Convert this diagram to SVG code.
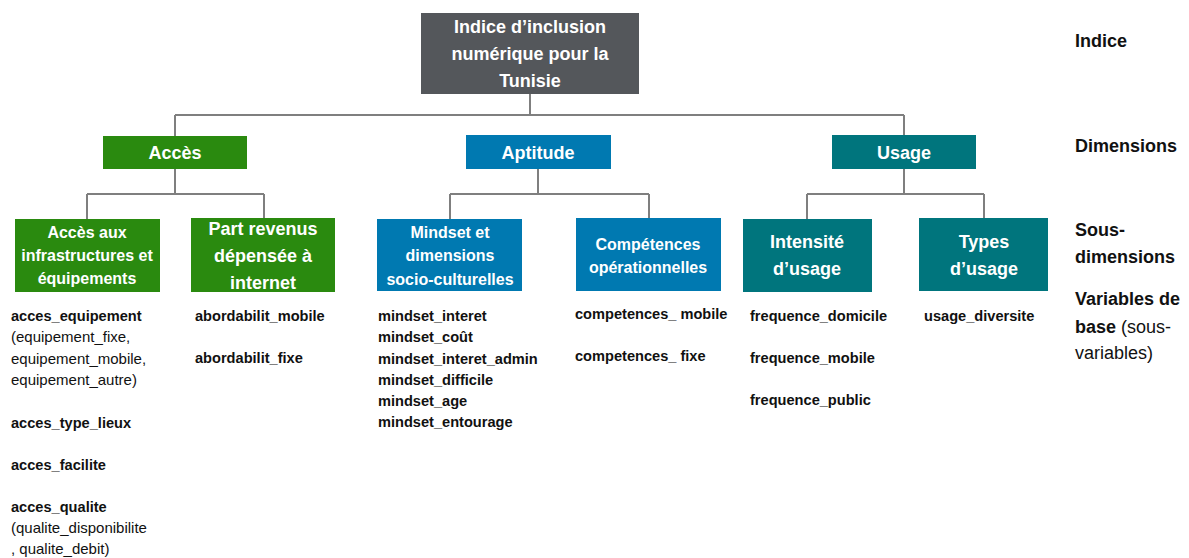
<svg xmlns="http://www.w3.org/2000/svg" width="1189" height="558" viewBox="0 0 1189 558">
  <style>
    text { font-family: "Liberation Sans", Arial, sans-serif; }
    .box-text { fill: #ffffff; font-weight: bold; text-anchor: middle; }
    .var { fill: #111111; font-size: 14.6px; font-weight: bold; }
    .sub { fill: #111111; font-size: 15px; font-weight: normal; }
    .level { fill: #111111; font-size: 18px; font-weight: bold; }
    .level-plain { font-weight: normal; }
    .wire { stroke: #7f7f7f; stroke-width: 2; fill: none; }
    .index { fill: #54575b; }
    .acces { fill: #2a8a0f; }
    .aptitude { fill: #0079b1; }
    .usage { fill: #00757d; }
  </style>

  <rect width="1189" height="558" fill="#ffffff"/>

  <!-- tree connectors -->
  <g id="connectors">
    <path class="wire" d="M530,94 V115 M175,115 H904 M175,115 V136 M904,115 V135"/>
    <path class="wire" d="M175,169 V194 M87,194 H264 M87,194 V219 M264,194 V218"/>
    <path class="wire" d="M538,169 V194 M450,194 H649 M450,194 V219 M649,194 V218"/>
    <path class="wire" d="M904,169 V194 M807,194 H984 M807,194 V219 M984,194 V218"/>
  </g>

  <!-- index -->
  <g id="node-indice">
    <rect class="index" x="421" y="13" width="218" height="81"/>
    <text class="box-text" font-size="18" x="530" y="33">Indice d’inclusion</text>
    <text class="box-text" font-size="18" x="530" y="60">numérique pour la</text>
    <text class="box-text" font-size="18" x="530" y="87">Tunisie</text>
  </g>

  <!-- dimensions -->
  <g id="node-acces">
    <rect class="acces" x="103" y="136" width="144" height="33"/>
    <text class="box-text" font-size="18" x="175" y="159">Accès</text>
  </g>
  <g id="node-aptitude">
    <rect class="aptitude" x="466" y="135" width="145" height="34"/>
    <text class="box-text" font-size="18" x="538" y="159">Aptitude</text>
  </g>
  <g id="node-usage">
    <rect class="usage" x="832" y="135" width="144" height="34"/>
    <text class="box-text" font-size="18" x="904" y="159">Usage</text>
  </g>

  <!-- sub-dimensions -->
  <g id="node-acces-infra">
    <rect class="acces" x="15" y="219" width="145" height="73"/>
    <text class="box-text" font-size="16" x="87" y="238">Accès aux</text>
    <text class="box-text" font-size="16" x="87" y="261">infrastructures et</text>
    <text class="box-text" font-size="16" x="87" y="284">équipements</text>
  </g>
  <g id="node-part-revenus">
    <rect class="acces" x="191" y="218" width="144" height="74"/>
    <text class="box-text" font-size="18" x="263" y="235">Part revenus</text>
    <text class="box-text" font-size="18" x="263" y="262">dépensée à</text>
    <text class="box-text" font-size="18" x="263" y="289">internet</text>
  </g>
  <g id="node-mindset">
    <rect class="aptitude" x="377" y="219" width="145" height="72"/>
    <text class="box-text" font-size="16" x="450" y="238">Mindset et</text>
    <text class="box-text" font-size="16" x="450" y="261">dimensions</text>
    <text class="box-text" font-size="16" x="450" y="285">socio-culturelles</text>
  </g>
  <g id="node-competences">
    <rect class="aptitude" x="576" y="218" width="145" height="73"/>
    <text class="box-text" font-size="16" x="648" y="250">Compétences</text>
    <text class="box-text" font-size="16" x="648" y="273">opérationnelles</text>
  </g>
  <g id="node-intensite">
    <rect class="usage" x="743" y="219" width="129" height="73"/>
    <text class="box-text" font-size="18" x="807" y="248">Intensité</text>
    <text class="box-text" font-size="18" x="807" y="275">d’usage</text>
  </g>
  <g id="node-types">
    <rect class="usage" x="919" y="218" width="129" height="73"/>
    <text class="box-text" font-size="18" x="984" y="248">Types</text>
    <text class="box-text" font-size="18" x="984" y="275">d’usage</text>
  </g>

  <!-- base variables -->
  <g id="vars-acces-infra">
    <text class="var" x="11" y="321">acces_equipement</text>
    <text class="sub" x="11" y="342">(equipement_fixe,</text>
    <text class="sub" x="11" y="364">equipement_mobile,</text>
    <text class="sub" x="11" y="385">equipement_autre)</text>
    <text class="var" x="11" y="428">acces_type_lieux</text>
    <text class="var" x="11" y="470">acces_facilite</text>
    <text class="var" x="11" y="512">acces_qualite</text>
    <text class="sub" x="11" y="533">(qualite_disponibilite</text>
    <text class="sub" x="11" y="554">, qualite_debit)</text>
  </g>
  <g id="vars-part-revenus">
    <text class="var" x="195" y="321">abordabilit_mobile</text>
    <text class="var" x="195" y="363">abordabilit_fixe</text>
  </g>
  <g id="vars-mindset">
    <text class="var" x="378" y="321">mindset_interet</text>
    <text class="var" x="378" y="342">mindset_coût</text>
    <text class="var" x="378" y="364">mindset_interet_admin</text>
    <text class="var" x="378" y="385">mindset_difficile</text>
    <text class="var" x="378" y="406">mindset_age</text>
    <text class="var" x="378" y="427">mindset_entourage</text>
  </g>
  <g id="vars-competences">
    <text class="var" x="575" y="319">competences_ mobile</text>
    <text class="var" x="575" y="361">competences_ fixe</text>
  </g>
  <g id="vars-intensite">
    <text class="var" x="750" y="321">frequence_domicile</text>
    <text class="var" x="750" y="363">frequence_mobile</text>
    <text class="var" x="750" y="405">frequence_public</text>
  </g>
  <g id="vars-types">
    <text class="var" x="924" y="321">usage_diversite</text>
  </g>

  <!-- level legend -->
  <g id="levels">
    <text class="level" x="1075" y="47">Indice</text>
    <text class="level" x="1075" y="152">Dimensions</text>
    <text class="level" x="1075" y="236">Sous-</text>
    <text class="level" x="1075" y="263">dimensions</text>
    <text class="level" x="1075" y="305">Variables de</text>
    <text class="level" x="1075" y="333">base <tspan class="level-plain">(sous-</tspan></text>
    <text class="level level-plain" x="1075" y="359">variables)</text>
  </g>
</svg>
